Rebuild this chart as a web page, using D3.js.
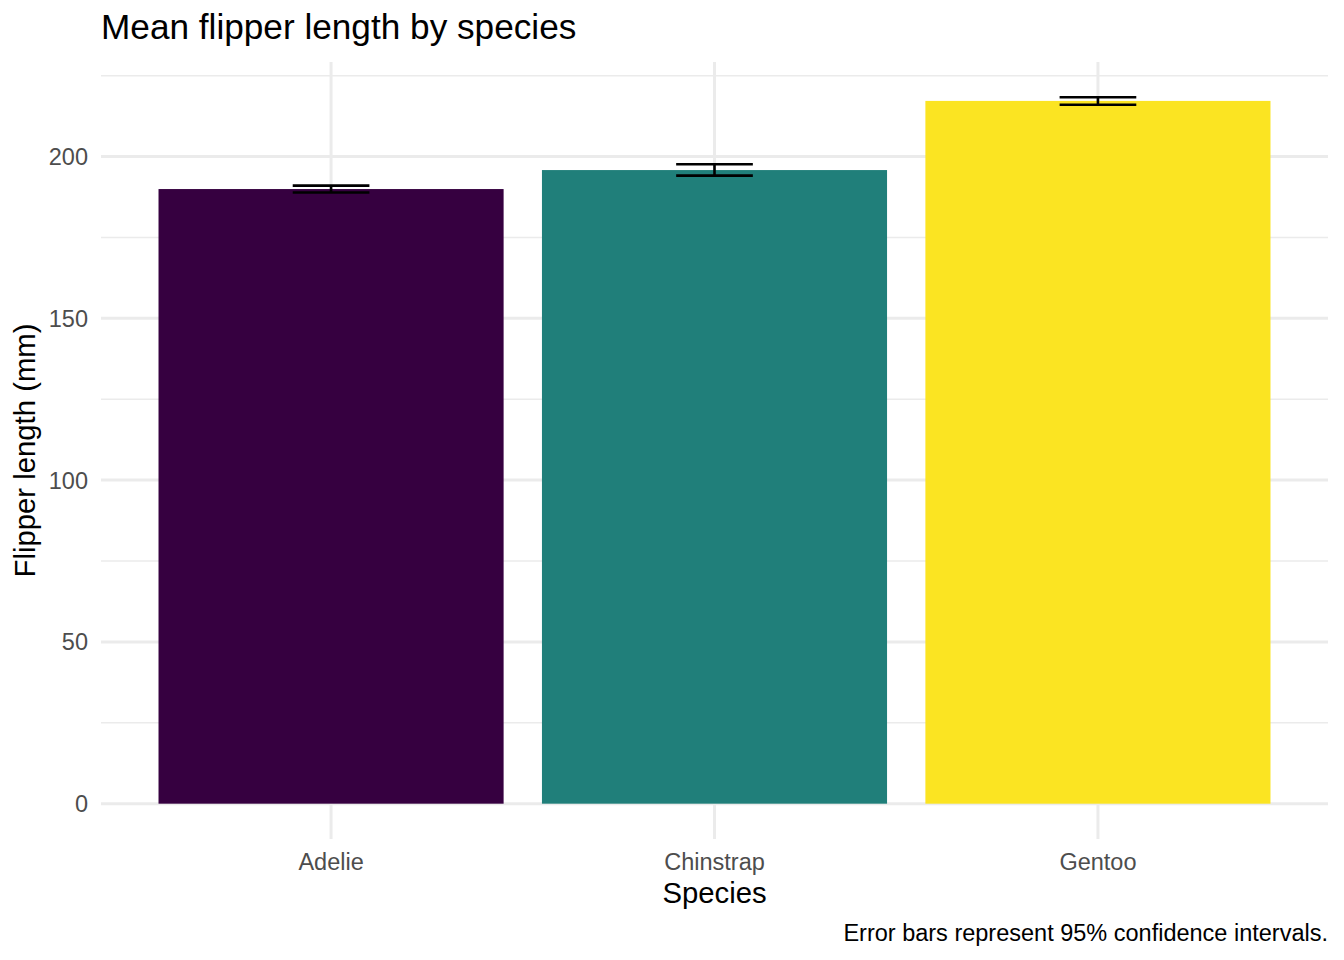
<!DOCTYPE html>
<html>
<head>
<meta charset="utf-8">
<script src="https://cdn.jsdelivr.net/npm/d3@7"></script>
<style>
  body { margin: 0; background: #fff; }
  text { font-family: "Liberation Sans", Arial, Helvetica, sans-serif; }
</style>
</head>
<body>
<div id="container"></div>
<script>
const width = 1344;
const height = 960;

// data
const species = ["Adelie", "Chinstrap", "Gentoo"];
const meanFlipper = [189.95, 195.82, 217.19];
const ciLower = [188.9, 194.1, 216.0];
const ciUpper = [191.0, 197.6, 218.3];
const barColors = ["#360040", "#207F7A", "#FBE422"];
const majorTicks = [0, 50, 100, 150, 200];
const minorTicks = [25, 75, 125, 175, 225];

const panel = {left: 101, right: 1328, top: 62, bottom: 839};

const svg = d3.select("#container")
              .append("svg")
              .attr("width", width)
              .attr("height", height);

const yMax = d3.max(ciUpper);
const pad = yMax * 0.05;
const y = d3.scaleLinear()
            .domain([-pad, yMax + pad])
            .range([panel.bottom, panel.top]);

const x = d3.scaleBand()
            .domain(species)
            .range([panel.left, panel.right])
            .paddingInner(0.1)
            .paddingOuter(0.15);

const color = d3.scaleOrdinal().domain(species).range(barColors);

// grid
const grid = svg.append("g");
grid.selectAll(".minor")
    .data(minorTicks)
    .enter()
    .append("line")
    .attr("x1", panel.left).attr("x2", panel.right)
    .attr("y1", d => y(d)).attr("y2", d => y(d))
    .attr("stroke", "#EBEBEB")
    .attr("stroke-width", 1.5);
grid.selectAll(".major")
    .data(majorTicks)
    .enter()
    .append("line")
    .attr("x1", panel.left).attr("x2", panel.right)
    .attr("y1", d => y(d)).attr("y2", d => y(d))
    .attr("stroke", "#EBEBEB")
    .attr("stroke-width", 3);
grid.selectAll(".vert")
    .data(species)
    .enter()
    .append("line")
    .attr("x1", d => x(d) + x.bandwidth() / 2).attr("x2", d => x(d) + x.bandwidth() / 2)
    .attr("y1", panel.top).attr("y2", panel.bottom)
    .attr("stroke", "#EBEBEB")
    .attr("stroke-width", 3);

// bars
svg.append("g")
   .selectAll("rect")
   .data(species)
   .enter()
   .append("rect")
   .attr("x", d => x(d))
   .attr("width", x.bandwidth())
   .attr("y", (d, i) => y(meanFlipper[i]))
   .attr("height", (d, i) => y(0) - y(meanFlipper[i]))
   .attr("fill", d => color(d));

// error bars
const ebHalf = x.bandwidth() / 0.9 * 0.2 / 2;
const eb = svg.append("g")
              .selectAll("g")
              .data(species)
              .enter()
              .append("g")
              .attr("stroke", "#000")
              .attr("stroke-width", 2.6)
              .attr("fill", "none");
eb.append("path")
  .attr("d", (d, i) => {
    const cx = x(d) + x.bandwidth() / 2;
    const top = y(ciUpper[i]);
    const bot = y(ciLower[i]);
    return "M" + (cx - ebHalf) + "," + top + "H" + (cx + ebHalf) +
           "M" + cx + "," + top + "V" + bot +
           "M" + (cx - ebHalf) + "," + bot + "H" + (cx + ebHalf);
  });

// y tick labels
svg.append("g")
   .selectAll("text")
   .data(majorTicks)
   .enter()
   .append("text")
   .attr("x", 88)
   .attr("y", d => y(d))
   .attr("dy", "0.36em")
   .attr("text-anchor", "end")
   .attr("fill", "#4D4D4D")
   .style("font-size", "23.5px")
   .text(d => d);

// x tick labels
svg.append("g")
   .selectAll("text")
   .data(species)
   .enter()
   .append("text")
   .attr("x", d => x(d) + x.bandwidth() / 2)
   .attr("y", 870)
   .attr("text-anchor", "middle")
   .attr("fill", "#4D4D4D")
   .style("font-size", "23.5px")
   .text(d => d);

// titles
svg.append("text")
   .attr("x", panel.left)
   .attr("y", 39)
   .style("font-size", "35.2px")
   .attr("fill", "#000")
   .text("Mean flipper length by species");

svg.append("text")
   .attr("x", (panel.left + panel.right) / 2)
   .attr("y", 903)
   .attr("text-anchor", "middle")
   .style("font-size", "29.3px")
   .attr("fill", "#000")
   .text("Species");

svg.append("text")
   .attr("transform", "translate(35," + ((panel.top + panel.bottom) / 2) + ") rotate(-90)")
   .attr("text-anchor", "middle")
   .style("font-size", "29.3px")
   .attr("fill", "#000")
   .text("Flipper length (mm)");

svg.append("text")
   .attr("x", panel.right)
   .attr("y", 941)
   .attr("text-anchor", "end")
   .style("font-size", "23.5px")
   .attr("fill", "#000")
   .text("Error bars represent 95% confidence intervals.");
</script>
</body>
</html>
